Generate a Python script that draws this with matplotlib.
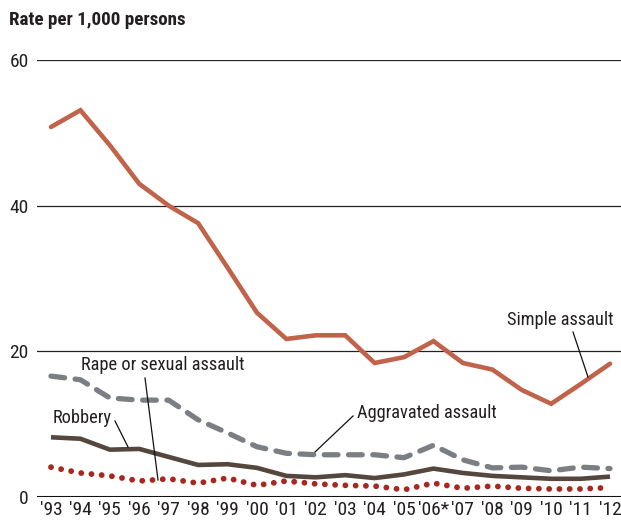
import matplotlib
matplotlib.use("Agg")
import matplotlib.pyplot as plt
from matplotlib import font_manager

years = ["'93", "'94", "'95", "'96", "'97", "'98", "'99", "'00", "'01", "'02",
         "'03", "'04", "'05", "'06*", "'07", "'08", "'09", "'10", "'11", "'12"]
simple_assault = [50.8, 53.1, 48.3, 43.0, 40.0, 37.6, 31.5, 25.3, 21.7, 22.2,
                  22.2, 18.4, 19.2, 21.4, 18.4, 17.5, 14.7, 12.8, 15.5, 18.3]
aggravated_assault = [16.6, 16.1, 13.6, 13.3, 13.3, 10.6, 8.8, 6.9, 6.0, 5.8,
                      5.8, 5.8, 5.4, 7.1, 5.1, 4.0, 4.1, 3.6, 4.1, 3.9]
robbery = [8.2, 8.0, 6.5, 6.6, 5.5, 4.4, 4.5, 4.0, 2.9, 2.7,
           3.0, 2.6, 3.1, 3.9, 3.3, 2.9, 2.7, 2.5, 2.5, 2.8]
rape_sexual_assault = [4.1, 3.3, 2.9, 2.2, 2.5, 1.9, 2.6, 1.6, 2.2, 1.8,
                       1.6, 1.5, 1.0, 1.9, 1.2, 1.5, 1.2, 1.1, 1.1, 1.3]
y_ticks = [0, 20, 40, 60]

avail = {f.name for f in font_manager.fontManager.ttflist}
fam = [f for f in ["Liberation Sans Narrow", "Roboto Condensed", "DejaVu Sans"] if f in avail]
plt.rcParams['font.family'] = fam

W, H = 621, 523
fig = plt.figure(figsize=(W / 100, H / 100), dpi=100)
ax = fig.add_axes([37 / W, (H - 497) / H, (W - 37) / W, (497 - 60) / H])

x = list(range(len(years)))
xpx0, xpx1 = 51, 610
u = (xpx1 - xpx0) / 19
ax.set_xlim(-(xpx0 - 37) / u, 19 + (621 - xpx1) / u)
ax.set_ylim(0, 60)
ax.patch.set_alpha(0)

for t in [20, 40, 60]:
    ax.axhline(t, color="#222222", lw=0.9, zorder=1)
ax.axhline(0, color="#111111", lw=2.2, zorder=5)

ax.plot(x, rape_sexual_assault, color="#a8281f", lw=4.2, linestyle=(0, (0.01, 1.75)),
        dash_capstyle="round", solid_capstyle="round", zorder=3)
ax.plot(x, robbery, color="#55463e", lw=3.3, zorder=3, solid_capstyle="butt")
ax.plot(x, aggravated_assault, color="#7b7f84", lw=3.8, linestyle=(0, (2.6, 2.0)),
        dash_capstyle="round", zorder=3)
ax.plot(x, simple_assault, color="#c1634b", lw=3.3, zorder=4, solid_capstyle="round",
        solid_joinstyle="miter")

for s in ax.spines.values():
    s.set_visible(False)
ax.set_xticks(x)
ax.set_xticklabels(years, fontsize=14, color="#231f20")
ax.set_yticks(y_ticks)
ax.set_yticklabels([str(v) for v in y_ticks], fontsize=14, color="#231f20")
ax.tick_params(length=0, pad=4)
ax.tick_params(axis="x", pad=3)
ax.tick_params(axis="y", pad=6)

fig.text(9 / W, 1 - 20 / H, "Rate per 1,000 persons", fontsize=13.7, fontweight="bold",
         color="#231f20", ha="left", va="center")

def px(xp, yp):
    return ((xp - xpx0) / u, (497 - yp) * 60 / (497 - 60))

kw = dict(fontsize=13.2, color="#231f20", ha="center", va="center", zorder=6)
ax.text(*px(163, 365), "Rape or sexual assault", **kw)
ax.text(*px(82, 418), "Robbery", **kw)
ax.text(*px(427, 413), "Aggravated assault", **kw)
ax.text(*px(560, 320), "Simple assault", **kw)

def leader(p0, p1):
    a = px(*p0); b = px(*p1)
    ax.plot([a[0], b[0]], [a[1], b[1]], color="#111111", lw=0.9, zorder=6)

leader((145, 378), (158, 480))
leader((115, 421), (128, 447))
leader((353, 416), (315, 452))
leader((573, 332), (588, 377))

fig.savefig("out.png", dpi=100)
